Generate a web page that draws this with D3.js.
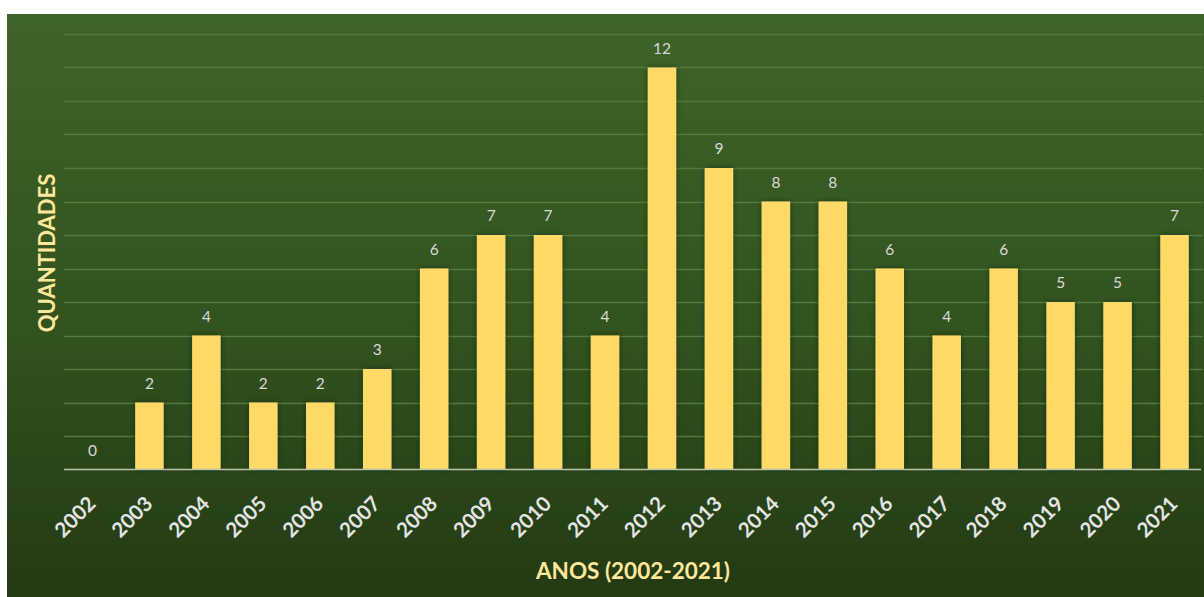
<!DOCTYPE html>
<html><head><meta charset="utf-8">
<script src="https://cdn.jsdelivr.net/npm/d3@7"></script>
<style>html,body{margin:0;padding:0;background:#fff;}</style>
</head><body>
<svg id="chart" width="1204" height="597"></svg>
<script>
const years = ["2002","2003","2004","2005","2006","2007","2008","2009","2010","2011","2012","2013","2014","2015","2016","2017","2018","2019","2020","2021"];
const quantities = [0,2,4,2,2,3,6,7,7,4,12,9,8,8,6,4,6,5,5,7];
const yTicks = [0,1,2,3,4,5,6,7,8,9,10,11,12,13];
const xTitle = "ANOS (2002-2021)";
const yTitle = "QUANTIDADES";

const svg = d3.select("#chart");
const W = 1204, H = 597;
const defs = svg.append("defs");
const grad = defs.append("linearGradient").attr("id","bg").attr("x1",0).attr("y1",0).attr("x2",0).attr("y2",1);
grad.append("stop").attr("offset","0%").attr("stop-color","#3f6427");
grad.append("stop").attr("offset","55%").attr("stop-color","#32521e");
grad.append("stop").attr("offset","100%").attr("stop-color","#233a13");
const sh = defs.append("filter").attr("id","shadow").attr("x","-30%").attr("y","-10%").attr("width","160%").attr("height","120%");
sh.append("feDropShadow").attr("dx",0).attr("dy",0).attr("stdDeviation",2.5).attr("flood-color","#0d2a12").attr("flood-opacity",0.8);

svg.append("rect").attr("x",7).attr("y",14).attr("width",W-7).attr("height",H-14).attr("fill","url(#bg)");

const margin = {left:64, right:1, top:34, bottom:128};
const x = d3.scaleBand().domain(years).range([margin.left, W - margin.right]).paddingInner(0.5).paddingOuter(0.25);
const y = d3.scaleLinear().domain([0,13]).range([469.5, 34]);
const font = "Lato, 'Open Sans', sans-serif";

// gridlines
svg.append("g").selectAll("line").data(yTicks.filter(d=>d>0)).join("line")
  .attr("x1", margin.left).attr("x2", W - 1)
  .attr("y1", d=>Math.round(y(d))+0.5).attr("y2", d=>Math.round(y(d))+0.5)
  .attr("stroke","#557a3e").attr("stroke-width",1.5);

// bars
const rows = years.map((d,i)=>({year:d,v:quantities[i]}));
svg.append("g").selectAll("rect").data(rows).join("rect")
  .attr("x", d=>x(d.year)).attr("width", x.bandwidth())
  .attr("y", d=>y(d.v)).attr("height", d=>y(0)-y(d.v))
  .attr("fill","#ffd966").attr("filter","url(#shadow)");

// baseline
svg.append("line").attr("x1",margin.left).attr("x2",W-3).attr("y1",y(0)).attr("y2",y(0))
  .attr("stroke","#b9c3ad").attr("stroke-width",1.5);

// value labels
svg.append("g").selectAll("text").data(rows).join("text")
  .attr("x", d=>x(d.year)+x.bandwidth()/2).attr("y", d=>y(d.v)-14)
  .attr("text-anchor","middle").attr("font-family",font).attr("font-size",15.5)
  .attr("fill","#d9d9d9").text(d=>d.v);

// x axis
const xAxis = d3.axisBottom(x).tickSize(0).tickPadding(0);
const gx = svg.append("g").attr("transform",`translate(0,${y(0)})`).call(xAxis);
gx.select(".domain").remove();
gx.selectAll("text")
  .attr("font-family",font).attr("font-size",20.5).attr("font-weight","bold")
  .attr("fill","#e4e4e4").attr("text-anchor","end").attr("dy",null).attr("y",0)
  .attr("transform","translate(4.5,35.5) rotate(-45)");

// titles
svg.append("text").attr("x",633).attr("y",579).attr("text-anchor","middle")
  .attr("font-family",font).attr("font-weight","bold").attr("font-size",22.5)
  .attr("fill","#ffe699").text(xTitle);
svg.append("text").attr("transform","translate(55,253) rotate(-90)").attr("text-anchor","middle")
  .attr("font-family",font).attr("font-weight","bold").attr("font-size",22)
  .attr("fill","#ffe699").text(yTitle);
</script>
</body></html>
